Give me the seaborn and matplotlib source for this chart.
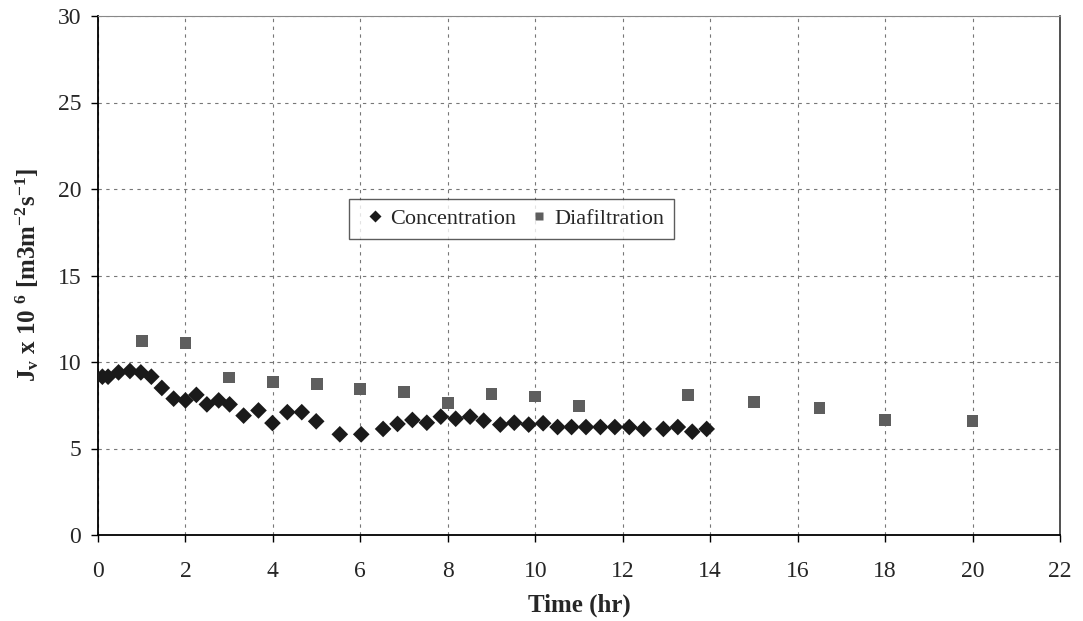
import matplotlib
matplotlib.use("Agg")
import matplotlib.pyplot as plt
import seaborn as sns
import pandas as pd

conc_time = [0.1, 0.23, 0.47, 0.73, 0.98, 1.22, 1.46, 1.73, 2.0, 2.25, 2.49, 2.76, 3.01,
             3.33, 3.67, 3.99, 4.33, 4.66, 4.99, 5.53, 6.02, 6.52, 6.85, 7.19, 7.52,
             7.84, 8.18, 8.51, 8.82, 9.2, 9.52, 9.85, 10.18, 10.51, 10.83, 11.16, 11.49,
             11.82, 12.15, 12.48, 12.93, 13.26, 13.59, 13.92]
conc_flux = [9.15, 9.15, 9.4, 9.48, 9.4, 9.15, 8.5, 7.88, 7.78, 8.1, 7.55, 7.78, 7.55,
             6.9, 7.2, 6.47, 7.1, 7.1, 6.57, 5.82, 5.82, 6.13, 6.42, 6.65, 6.49,
             6.84, 6.72, 6.84, 6.61, 6.38, 6.49, 6.38, 6.46, 6.24, 6.24, 6.24, 6.24,
             6.24, 6.24, 6.13, 6.13, 6.24, 5.97, 6.13]
dia_time = [1, 2, 3, 4, 5, 6, 7, 8, 9, 10, 11, 13.5, 15, 16.5, 18, 20]
dia_flux = [11.2, 11.1, 9.1, 8.86, 8.75, 8.42, 8.27, 7.61, 8.15, 8.0, 7.46, 8.1,
            7.69, 7.32, 6.65, 6.6]
series_names = ["Concentration", "Diafiltration"]
x_ticks = list(range(0, 23, 2))
y_ticks = list(range(0, 31, 5))

sns.set_style("white")
plt.rcParams['font.family'] = ['Liberation Serif', 'DejaVu Serif']
plt.rcParams['mathtext.fontset'] = 'custom'
plt.rcParams['mathtext.rm'] = 'Liberation Serif'
plt.rcParams['mathtext.bf'] = 'Liberation Serif:bold'
plt.rcParams['mathtext.it'] = 'Liberation Serif:italic'
plt.rcParams['mathtext.default'] = 'bf'

df = pd.concat([
    pd.DataFrame({"t": conc_time, "J": conc_flux, "s": series_names[0]}),
    pd.DataFrame({"t": dia_time, "J": dia_flux, "s": series_names[1]}),
])

fig = plt.figure(figsize=(10.83, 6.21), dpi=100)
ax = fig.add_axes([98 / 1083, 1 - 535 / 621, (1060 - 98) / 1083, (535 - 16) / 621])

sns.scatterplot(data=df, x="t", y="J", hue="s", style="s",
                palette={series_names[0]: "#1a1a1a", series_names[1]: "#5e5e5e"},
                markers={series_names[0]: "D", series_names[1]: "s"},
                s=72, edgecolor="none", ax=ax, zorder=3)

ax.set_xlim(0, 22)
ax.set_ylim(0, 30)
ax.set_xticks(x_ticks)
ax.set_yticks(y_ticks)
ax.grid(True, color="#777777", linestyle=(0, (3, 4)), linewidth=0.8)
ax.tick_params(axis="both", labelsize=17, direction="out", length=5, width=1,
               color="black", bottom=True, left=True)
ax.tick_params(axis="x", pad=14)
ax.tick_params(axis="y", pad=7)
for side in ["left", "bottom"]:
    ax.spines[side].set_color("black")
    ax.spines[side].set_linewidth(1.3)
ax.spines["top"].set_color("#888888")
ax.spines["top"].set_linewidth(0.8)
ax.spines["right"].set_color("#333333")
ax.spines["right"].set_linewidth(1.2)

ax.set_xlabel("Time (hr)", fontsize=18, fontweight="bold", labelpad=8)
ax.set_ylabel(r"J$_v$ x 10 $^6$ [m3m$^{-2}$s$^{-1}$]", fontsize=18,
              fontweight="bold", labelpad=12)

h, l = ax.get_legend_handles_labels()
leg = ax.legend(h, l, loc="center", bbox_to_anchor=(0.43, 0.609), ncol=2,
                fontsize=16, frameon=True, fancybox=False, edgecolor="#333333",
                handletextpad=0.0, columnspacing=0.3, borderpad=0.45,
                handlelength=1.4, markerscale=0.75)
leg.get_frame().set_linewidth(1.0)

fig.savefig("out.png", dpi=100)
